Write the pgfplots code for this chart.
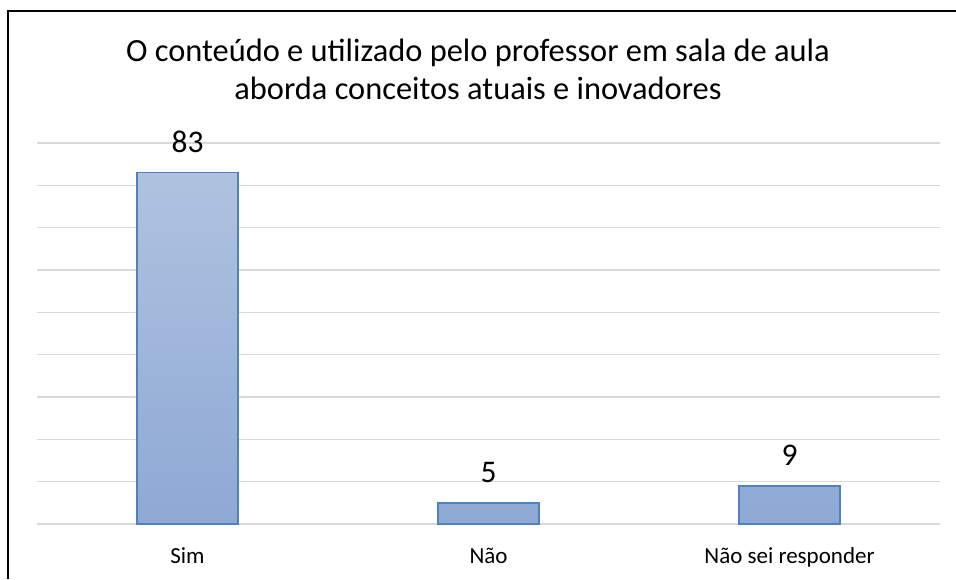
\documentclass[border=0pt]{standalone}
\usepackage{fontspec}
\setmainfont{Carlito}
\usepackage{pgfplots}
\pgfplotsset{compat=1.18}
\definecolor{gridc}{RGB}{217,217,217}
\definecolor{bartop}{RGB}{176,194,224}
\definecolor{barbot}{RGB}{142,169,212}
\definecolor{baredge}{RGB}{79,129,189}
\begin{document}
\begin{tikzpicture}[x=1pt,y=1pt]
\useasboundingbox (-37,-55) rectangle (919,524);
\begin{axis}[at={(0,0)}, anchor=south west, scale only axis,
  width=903pt, height=381pt,
  xmin=-0.5, xmax=2.5, ymin=0, ymax=90,
  ybar, bar width=101pt,
  axis line style={draw=none},
  ytick={0,10,...,90}, yticklabels={},
  ymajorgrids, grid style={gridc, line width=1.5pt},
  xtick={0,1,2}, xticklabels={Sim,Não,Não sei responder},
  major tick length=0pt,
  xticklabel style={font=\fontsize{23}{28}\selectfont, anchor=base, yshift=-39pt},
  nodes near coords,
  nodes near coords style={font=\fontsize{31.5}{38}\selectfont, text=black, yshift=16pt},
  /pgf/number format/assume math mode=true,
  clip=false,
]
\addplot[draw=baredge, line width=1.5pt, top color=bartop, bottom color=barbot]
  coordinates {(0,83) (1,5) (2,9)};
\end{axis}
\node[anchor=base, font=\fontsize{32.4}{38}\selectfont] at (441,462) {O conteúdo e utilizado pelo professor em sala de aula};
\node[anchor=base, font=\fontsize{32.4}{38}\selectfont] at (441,424) {aborda conceitos atuais e inovadores};
\draw[black, line width=2pt] (-29,-55) -- (-29,513) -- (919,513);
\end{tikzpicture}
\end{document}
